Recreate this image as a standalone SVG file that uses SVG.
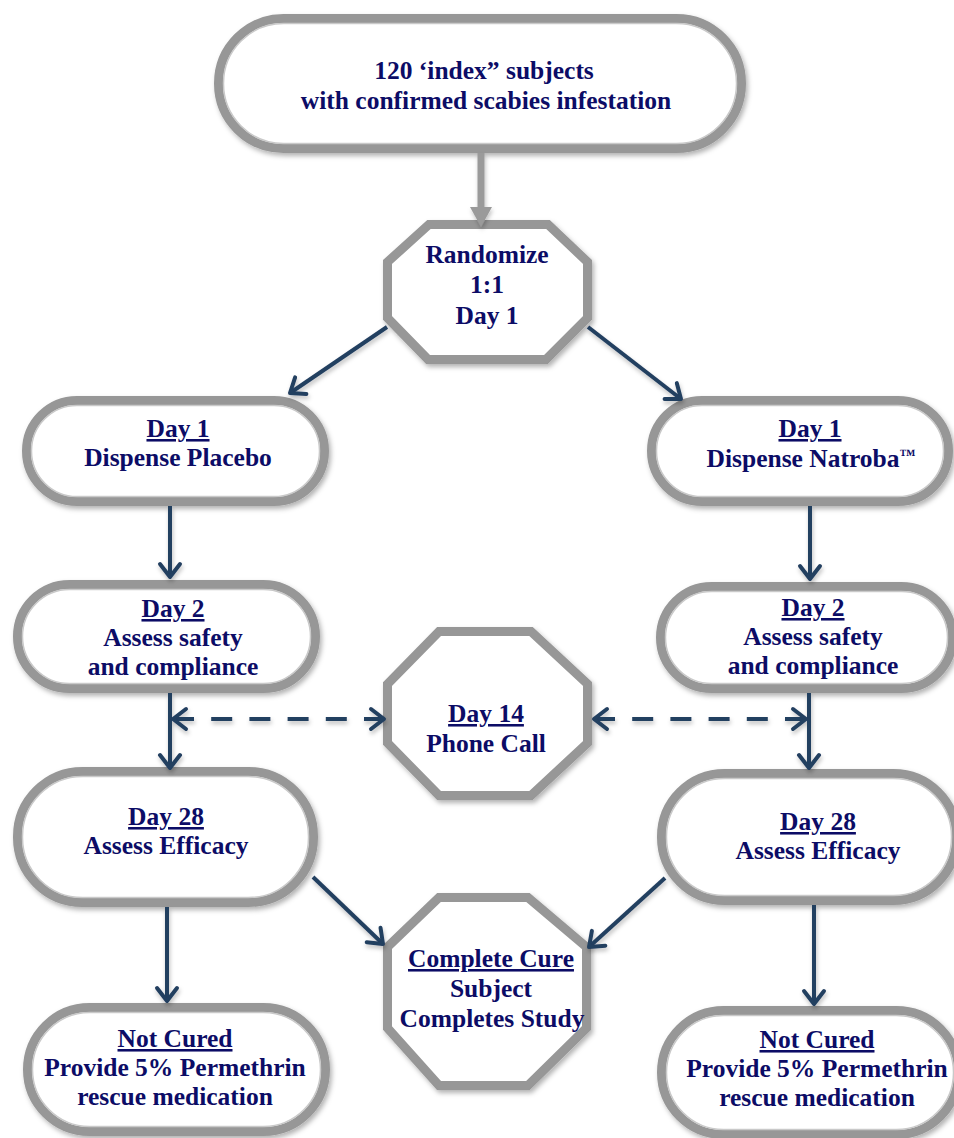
<svg xmlns="http://www.w3.org/2000/svg" width="954" height="1138" viewBox="0 0 954 1138">
<style>
.nd{fill:#ffffff;stroke:#979797;stroke-width:9;filter:url(#sh)}
.hl{fill:none;stroke:#c9c9c9;stroke-width:1.5}
.t{font-family:"Liberation Serif","Times New Roman",serif;font-weight:bold;font-size:25.5px;fill:#0c0c66;text-anchor:middle}
.u{text-decoration:underline}
.tm{font-size:16px}
.c{fill:none;stroke:#243f60;stroke-width:4}
.d{stroke-dasharray:21 17.2}
</style>
<defs>
<filter id="sh" filterUnits="userSpaceOnUse" x="0" y="0" width="954" height="1138">
<feDropShadow dx="2" dy="3" stdDeviation="2.5" flood-color="#000" flood-opacity="0.3"/>
</filter>
<filter id="sh2" filterUnits="userSpaceOnUse" x="0" y="0" width="954" height="1138">
<feDropShadow dx="1" dy="3" stdDeviation="2" flood-color="#000" flood-opacity="0.25"/>
</filter>
<marker id="ah" viewBox="-16 -13 20 26" markerWidth="20" markerHeight="26" refX="0" refY="0" orient="auto-start-reverse" markerUnits="userSpaceOnUse">
<path d="M-13,-10 L0,0 L-13,10" fill="none" stroke="#243f60" stroke-width="4" stroke-linecap="round" stroke-linejoin="round"/>
</marker>
</defs>

<g id="n_index">
<rect class="nd" x="218.5" y="18.5" width="523" height="130" rx="65"/>
<rect class="hl" x="223.5" y="23.5" width="513" height="120" rx="60"/>
<text class="t" x="484" y="79">120 ‘index” subjects</text>
<text class="t" x="486" y="109">with confirmed scabies infestation</text>
</g>

<g id="n_randomize">
<polygon class="nd" points="429,224.5 548,224.5 587.5,262 587.5,318 546,359.5 428,359.5 387.5,318 387.5,262"/>
<text class="t" x="487" y="263">Randomize</text>
<text class="t" x="487" y="293">1:1</text>
<text class="t" x="487" y="324">Day 1</text>
</g>

<g id="n_placebo">
<rect class="nd" x="26.5" y="400.5" width="298" height="101" rx="50.5"/>
<rect class="hl" x="31.5" y="405.5" width="288" height="91" rx="45.5"/>
<text class="t u" x="178" y="437">Day 1</text>
<text class="t" x="178" y="466">Dispense Placebo</text>
</g>

<g id="n_natroba">
<rect class="nd" x="651.5" y="400.5" width="297" height="101" rx="50.5"/>
<rect class="hl" x="656.5" y="405.5" width="287" height="91" rx="45.5"/>
<text class="t u" x="810" y="437">Day 1</text>
<text class="t" x="811" y="467">Dispense Natroba<tspan class="tm" dy="-7">™</tspan></text>
</g>

<g id="n_day2_left">
<rect class="nd" x="17.5" y="584.5" width="298" height="104" rx="52"/>
<rect class="hl" x="22.5" y="589.5" width="288" height="94" rx="47"/>
<text class="t u" x="173" y="617">Day 2</text>
<text class="t" x="173" y="646">Assess safety</text>
<text class="t" x="173" y="675">and compliance</text>
</g>

<g id="n_day2_right">
<rect class="nd" x="660.5" y="586.5" width="292" height="102" rx="51"/>
<rect class="hl" x="665.5" y="591.5" width="282" height="92" rx="46"/>
<text class="t u" x="813" y="616">Day 2</text>
<text class="t" x="813" y="645">Assess safety</text>
<text class="t" x="813" y="674">and compliance</text>
</g>

<g id="n_day14">
<polygon class="nd" points="439,631.5 531,631.5 587.5,684 587.5,743 531,795.5 439,795.5 387.5,743 387.5,684"/>
<text class="t u" x="486" y="722">Day 14</text>
<text class="t" x="486" y="752">Phone Call</text>
</g>

<g id="n_day28_left">
<rect class="nd" x="17.5" y="771.5" width="296" height="131" rx="65"/>
<rect class="hl" x="22.5" y="776.5" width="286" height="121" rx="60"/>
<text class="t u" x="166" y="825">Day 28</text>
<text class="t" x="166" y="854">Assess Efficacy</text>
</g>

<g id="n_day28_right">
<rect class="nd" x="661.5" y="773.5" width="295" height="127" rx="63"/>
<rect class="hl" x="666.5" y="778.5" width="285" height="117" rx="58"/>
<text class="t u" x="818" y="830">Day 28</text>
<text class="t" x="818" y="859">Assess Efficacy</text>
</g>

<g id="n_cure">
<polygon class="nd" points="439,897.5 528,897.5 586.5,947 586.5,1028 528,1085.5 439,1085.5 387.5,1028 387.5,947"/>
<text class="t u" x="491" y="967">Complete Cure</text>
<text class="t" x="491" y="997">Subject</text>
<text class="t" x="492" y="1027">Completes Study</text>
</g>

<g id="n_notcured_left">
<rect class="nd" x="27.5" y="1007.5" width="298" height="124" rx="62"/>
<rect class="hl" x="32.5" y="1012.5" width="288" height="114" rx="57"/>
<text class="t u" x="175" y="1047">Not Cured</text>
<text class="t" x="175" y="1076">Provide 5% Permethrin</text>
<text class="t" x="175" y="1105">rescue medication</text>
</g>

<g id="n_notcured_right">
<rect class="nd" x="661.5" y="1010.5" width="297" height="124" rx="62"/>
<rect class="hl" x="666.5" y="1015.5" width="287" height="114" rx="57"/>
<text class="t u" x="817" y="1048">Not Cured</text>
<text class="t" x="817" y="1077">Provide 5% Permethrin</text>
<text class="t" x="817" y="1106">rescue medication</text>
</g>

<g id="connectors" filter="url(#sh2)">
<line x1="481" y1="153" x2="481" y2="210" stroke="#9a9a9a" stroke-width="7"/>
<polygon points="470,207 492,207 481,227" fill="#9a9a9a"/>
<line class="c" x1="387" y1="327" x2="290" y2="393" marker-end="url(#ah)"/>
<line class="c" x1="588" y1="327" x2="681" y2="399" marker-end="url(#ah)"/>
<line class="c" x1="170" y1="506" x2="170" y2="577" marker-end="url(#ah)"/>
<line class="c" x1="810" y1="506" x2="810" y2="579" marker-end="url(#ah)"/>
<line class="c" x1="170" y1="693" x2="170" y2="768" marker-end="url(#ah)"/>
<line class="c" x1="809" y1="693" x2="809" y2="768" marker-end="url(#ah)"/>
<line class="c d" x1="173" y1="719" x2="384" y2="719" marker-start="url(#ah)" marker-end="url(#ah)"/>
<line class="c d" x1="594" y1="719" x2="806" y2="719" marker-start="url(#ah)" marker-end="url(#ah)"/>
<line class="c" x1="313" y1="877" x2="383" y2="944" marker-end="url(#ah)"/>
<line class="c" x1="665" y1="878" x2="589" y2="947" marker-end="url(#ah)"/>
<line class="c" x1="167" y1="907" x2="167" y2="1001" marker-end="url(#ah)"/>
<line class="c" x1="814" y1="905" x2="814" y2="1004" marker-end="url(#ah)"/>
</g>
</svg>
